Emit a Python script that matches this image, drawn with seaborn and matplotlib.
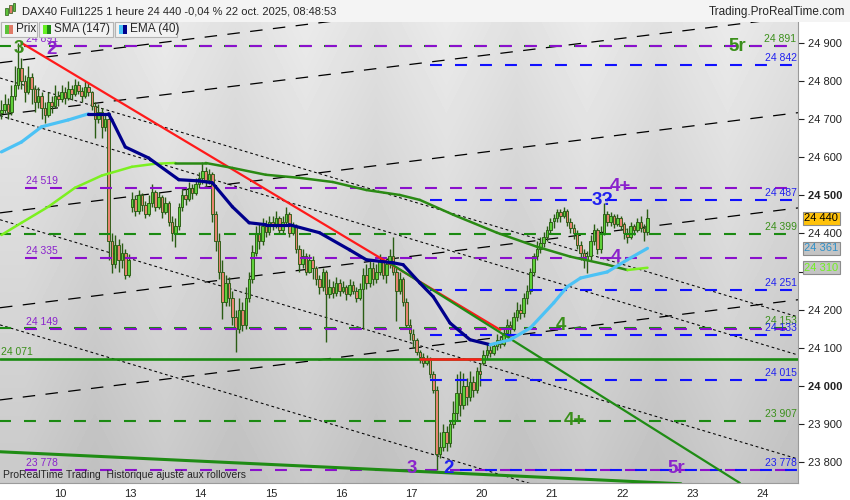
import numpy as np
import pandas as pd
import matplotlib
matplotlib.use("Agg")
import matplotlib.pyplot as plt
import matplotlib.transforms as mtransforms
from matplotlib.patches import Rectangle
import seaborn as sns

# ---------------- data ----------------
days = ["9", "10", "13", "14", "15", "16", "17", "20", "21", "22", "23", "24"]
bars_per_day = 21      # hourly bars per session
first_slot = 3         # 9 Oct starts partly off screen

day_open = [24715, 24752, 24470, 24545, 24430, 24250, 24135, 24060, 24432, 24425]

closes = [
    [24725, 24740, 24718, 24760, 24790, 24835, 24800, 24770, 24810, 24780, 24745, 24760, 24730, 24712, 24745, 24735, 24760, 24752],
    [24770, 24755, 24780, 24765, 24790, 24775, 24760, 24785, 24770, 24735, 24700, 24720, 24680, 24700, 24380, 24320, 24370, 24330, 24350, 24290, 24330],
    [24490, 24460, 24500, 24475, 24450, 24480, 24510, 24470, 24495, 24455, 24480, 24430, 24400, 24420, 24470, 24500, 24490, 24520, 24505, 24530, 24545],
    [24565, 24540, 24555, 24450, 24380, 24300, 24220, 24270, 24230, 24180, 24150, 24200, 24160, 24230, 24280, 24350, 24400, 24380, 24420, 24405, 24430],
    [24420, 24440, 24410, 24430, 24450, 24400, 24420, 24360, 24320, 24340, 24300, 24330, 24310, 24280, 24260, 24300, 24240, 24260, 24245, 24270, 24250],
    [24260, 24240, 24265, 24250, 24230, 24255, 24290, 24270, 24310, 24280, 24300, 24330, 24290, 24320, 24340, 24300, 24250, 24280, 24220, 24160, 24140],
    [24120, 24090, 24075, 24060, 24070, 24030, 23990, 23820, 23840, 23880, 23850, 23900, 23930, 23980, 23950, 24000, 23970, 24010, 23990, 24040, 24030],
    [24080, 24095, 24085, 24105, 24120, 24110, 24140, 24160, 24150, 24180, 24200, 24190, 24230, 24250, 24300, 24340, 24360, 24375, 24390, 24410, 24430],
    [24440, 24455, 24445, 24460, 24430, 24415, 24400, 24370, 24350, 24330, 24340, 24380, 24410, 24360, 24400, 24450, 24430, 24445, 24425, 24440, 24420],
    [24400, 24390, 24420, 24410, 24430, 24415, 24405, 24440],
]
highs = [
    [24750, 24765, 24755, 24790, 24840, 24900, 24860, 24815, 24840, 24820, 24790, 24785, 24770, 24745, 24770, 24760, 24790, 24775],
    [24790, 24785, 24800, 24790, 24805, 24800, 24785, 24800, 24795, 24775, 24745, 24740, 24730, 24715, 24720, 24400, 24395, 24385, 24375, 24360, 24345],
    [24510, 24500, 24515, 24505, 24485, 24500, 24530, 24515, 24510, 24500, 24495, 24485, 24445, 24440, 24480, 24515, 24520, 24535, 24530, 24545, 24560],
    [24588, 24575, 24570, 24560, 24460, 24400, 24330, 24290, 24285, 24250, 24200, 24230, 24220, 24260, 24300, 24370, 24420, 24425, 24440, 24435, 24445],
    [24445, 24460, 24445, 24445, 24470, 24455, 24430, 24425, 24370, 24360, 24350, 24345, 24340, 24315, 24290, 24310, 24305, 24280, 24275, 24285, 24280],
    [24275, 24265, 24280, 24275, 24260, 24270, 24310, 24320, 24330, 24325, 24320, 24345, 24335, 24335, 24360, 24390, 24310, 24300, 24285, 24230, 24175],
    [24150, 24125, 24095, 24085, 24080, 24075, 24040, 24000, 23880, 23900, 23895, 23910, 23960, 24030, 24040, 24035, 24020, 24040, 24025, 24050, 24060],
    [24095, 24110, 24105, 24115, 24135, 24130, 24150, 24175, 24170, 24195, 24220, 24215, 24245, 24265, 24310, 24350, 24380, 24390, 24405, 24420, 24440],
    [24450, 24465, 24465, 24470, 24465, 24440, 24425, 24410, 24380, 24360, 24355, 24395, 24425, 24415, 24420, 24480, 24460, 24455, 24450, 24450, 24445],
    [24430, 24415, 24430, 24425, 24440, 24445, 24425, 24465],
]
lows = [
    [24700, 24715, 24700, 24712, 24750, 24780, 24780, 24745, 24765, 24740, 24720, 24730, 24700, 24690, 24705, 24715, 24728, 24735],
    [24745, 24740, 24750, 24750, 24760, 24765, 24745, 24755, 24760, 24725, 24650, 24690, 24650, 24670, 24330, 24295, 24310, 24300, 24310, 24280, 24285],
    [24455, 24445, 24450, 24460, 24440, 24445, 24470, 24460, 24465, 24440, 24450, 24420, 24380, 24365, 24410, 24460, 24475, 24485, 24490, 24500, 24520],
    [24530, 24525, 24530, 24430, 24355, 24280, 24175, 24210, 24210, 24160, 24090, 24140, 24145, 24150, 24220, 24270, 24340, 24360, 24370, 24390, 24395],
    [24410, 24415, 24400, 24400, 24420, 24390, 24395, 24350, 24300, 24310, 24290, 24295, 24280, 24265, 24240, 24250, 24115, 24230, 24230, 24235, 24235],
    [24245, 24225, 24235, 24240, 24220, 24225, 24150, 24255, 24260, 24265, 24270, 24290, 24280, 24270, 24310, 24290, 24170, 24240, 24210, 24150, 24120],
    [24100, 24080, 24060, 24050, 24055, 24020, 23980, 23780, 23810, 23830, 23830, 23840, 23890, 23910, 23920, 23940, 23950, 23960, 23970, 23980, 24000],
    [24055, 24070, 24075, 24080, 24095, 24100, 24105, 24130, 24135, 24145, 24170, 24175, 24180, 24215, 24240, 24290, 24330, 24350, 24365, 24380, 24400],
    [24415, 24430, 24430, 24440, 24420, 24400, 24385, 24360, 24330, 24310, 24295, 24330, 24370, 24345, 24350, 24395, 24420, 24420, 24415, 24420, 24410],
    [24385, 24375, 24385, 24395, 24405, 24405, 24380, 24395],
]

# moving averages (bar index, value)
sma_idx = [0, 6, 14, 22, 30, 39, 46, 52, 61, 69, 79, 89, 99, 109, 119, 125, 135, 148, 160, 170, 181, 187, 193]
sma_val = [24396, 24428, 24470, 24520, 24552, 24575, 24583, 24585, 24585, 24572, 24554, 24546, 24535, 24514,
           24501, 24488, 24449, 24402, 24365, 24339, 24318, 24304, 24310]
ema_idx = [0, 6, 12, 20, 26, 32, 33, 37, 44, 53, 59, 63, 69, 74, 79, 86, 95, 104, 109, 117, 120, 125, 129,
           134, 140, 146, 152, 158, 165, 169, 173, 181, 187, 193]
ema_val = [24614, 24640, 24680, 24698, 24714, 24714, 24698, 24627, 24598, 24541, 24538, 24533, 24470, 24428,
           24423, 24423, 24402, 24357, 24331, 24323, 24318, 24270, 24234, 24165, 24121, 24108, 24121, 24152,
           24218, 24260, 24283, 24299, 24331, 24361]

# horizontal levels: price, colour, first bar
level_price = [24891, 24891, 24842, 24519, 24487, 24399, 24335, 24251, 24153, 24149, 24133, 24015, 23907, 23778, 23778]
level_kind = ["g", "p", "b", "p", "b", "g", "p", "b", "g", "p", "b", "b", "g", "p", "b"]
level_from = [-1, 7, 128, 7, 128, -1, 7, 128, -1, 7, 128, 128, -1, 7, 137]
left_labels = [24891, 24519, 24335, 24149, 23778]
right_labels = [(24891, "g"), (24842, "b"), (24487, "b"), (24399, "g"), (24251, "b"), (24153, "g"),
                (24133, "b"), (24015, "b"), (23907, "g"), (23778, "b")]
support = 24071

# trend lines (bar index, price)
red_line = ([6, 149], [24900, 24147])
red_flat = ([125, 143], [24071, 24071])
green_down = ([115.5, 220.6], [24325, 23745])
green_low = ([-0.4, 203], [23827, 23743])
channel_up = [(24848, 25110), (24711, 24969), (24454, 24717), (24205, 24467), (23963, 24226)]
channel_dn = [(24808, 24181), (24709, 24081), (24436, 23808), (24160, 23533)]

waves = [("3", 5.3, 24885, "g"), ("2", 15.1, 24883, "p"), ("5r", 219.7, 24890, "g"),
         ("4+", 184.8, 24522, "p"), ("3?", 179.7, 24486, "b"), ("4", 183.6, 24336, "p"),
         ("4", 167.2, 24158, "g"), ("4+", 171.3, 23908, "g"), ("3", 122.6, 23782, "p"),
         ("2", 133.7, 23782, "b"), ("5r", 201.5, 23782, "p")]

last_price = 24440
ema_last = 24361
sma_last = 24310

# ---------------- style ----------------
sns.set_style("white")
plt.rcParams["font.family"] = ["Liberation Sans", "DejaVu Sans"]
plt.rcParams["lines.scale_dashes"] = False

col = {"g": "#1b8a12", "p": "#8a10cc", "b": "#1010ff"}
txt = {"g": "#3a8f1a", "p": "#8a22cc", "b": "#2020f0"}
edge = "#2a5c14"

def fmt(p):
    return f"{p:,}".replace(",", " ")

# ---------------- candles ----------------
rows = []
i = 0
for o, cs, hs, ls in zip(day_open, closes, highs, lows):
    for c, h, l in zip(cs, hs, ls):
        rows.append((i, o, h, l, c))
        o = c
        i += 1
df = pd.DataFrame(rows, columns=["i", "open", "high", "low", "close"])

fig = plt.figure(figsize=(8.5, 5.0), dpi=100)
fig.patch.set_facecolor("white")
ax = fig.add_axes([0, 17 / 500, 798 / 850, 461 / 500])

ylo, yhi = 23745, 24955
xlo, xhi = -0.42, 237.96

# background: vertical gradient with alternating day bands
t = np.linspace(0, 1, 150)[:, None]
band = np.array([i % 2 for i in range(len(days))])[None, :]
bg = 0.92 - 0.13 * t - 0.04 * band
ax.imshow(bg, cmap="gray", vmin=0, vmax=1, aspect="auto", origin="upper",
          extent=[-first_slot - 0.5, bars_per_day * len(days) - first_slot - 0.5, ylo, yhi],
          interpolation="bilinear", zorder=0)

# channel lines
for a, b in channel_up:
    ax.plot([xlo, xhi], [a, b], color="black", lw=0.9, dashes=(9, 7.5), zorder=1)
for a, b in channel_dn:
    ax.plot([xlo, xhi], [a, b], color="black", lw=0.75, dashes=(2, 2), zorder=1)

# candles
up = df["close"] >= df["open"]
ax.vlines(df["i"], df["low"], df["high"], color=edge, lw=1.0, zorder=3)
ax.bar(df["i"], (df["close"] - df["open"]).abs().clip(lower=1.5),
       bottom=df[["open", "close"]].min(axis=1), width=0.75,
       color=np.where(up, "#5fd03a", "#e88470"), edgecolor=edge, linewidth=0.65, zorder=4)

# levels
for p, k, x0 in zip(level_price, level_kind, level_from):
    ax.plot([x0, xhi], [p, p], color=col[k], lw=1.5, dashes=(8.6, 9.4), zorder=5)
ax.axhline(support, color=col["g"], lw=1.9, zorder=5)

for p in left_labels:
    ax.annotate(fmt(p), (7, p), xytext=(1, 5), textcoords="offset points", ha="left", va="center",
                fontsize=7.5, color=txt["p"], zorder=6)
ax.annotate(fmt(support), (0, support), xytext=(0, 5), textcoords="offset points", ha="left",
            va="center", fontsize=7.5, color=txt["g"], zorder=6)
for p, k in right_labels:
    ax.annotate(fmt(p), (xhi, p), xytext=(-1, 5), textcoords="offset points", ha="right", va="center",
                fontsize=7.5, color=txt[k], zorder=6)

# trend lines
sns.lineplot(x=red_line[0], y=red_line[1], ax=ax, color="#ff1a1a", lw=1.6, zorder=6)
sns.lineplot(x=red_flat[0], y=red_flat[1], ax=ax, color="#ff1a1a", lw=1.8, zorder=6)
sns.lineplot(x=green_down[0], y=green_down[1], ax=ax, color="#1f8c14", lw=1.6, zorder=6)
sns.lineplot(x=green_low[0], y=green_low[1], ax=ax, color="#1f8c14", lw=2.2, zorder=6)

# moving averages, coloured by direction
def two_tone(xs, ys, rise, fall, lw):
    for x0, x1, y0, y1 in zip(xs[:-1], xs[1:], ys[:-1], ys[1:]):
        ax.plot([x0, x1], [y0, y1], color=rise if y1 > y0 else fall, lw=lw,
                solid_capstyle="round", zorder=7)

two_tone(sma_idx, sma_val, "#7cf020", "#2a8a14", 1.8)
two_tone(ema_idx, ema_val, "#4cc2f5", "#00008c", 2.3)

for s, x, p, k in waves:
    ax.text(x, p, s, color=txt[k], fontsize=13.5, fontweight="bold", ha="center", va="center", zorder=8)

ax.text(0.004, 0.018, "ProRealTime Trading  Historique ajusté aux rollovers", transform=ax.transAxes,
        fontsize=7.5, ha="left", va="center", zorder=8)

# axes
ax.set_xlim(xlo, xhi)
ax.set_ylim(ylo, yhi)
bounds = [bars_per_day * d - first_slot - 0.5 for d in range(1, len(days))]
ax.set_xticks(bounds)
ax.set_xticklabels(days[1:])
ax.yaxis.tick_right()
yt = list(range(23800, 25000, 100))
ax.set_yticks(yt)
# the 24 300 label sits under the SMA value box
ax.set_yticklabels(["" if abs(v - sma_last) < 30 else fmt(v) for v in yt])
for lab, v in zip(ax.get_yticklabels(), yt):
    if v % 500 == 0:
        lab.set_fontweight("bold")
ax.tick_params(axis="x", length=3, pad=1.5, labelsize=8, colors="#222222")
ax.tick_params(axis="y", length=4, pad=3, labelsize=8, colors="#222222")
for s in ["top", "left"]:
    ax.spines[s].set_visible(False)
ax.spines["right"].set_color("#9a9a9a")
ax.spines["bottom"].set_color("#9a9a9a")

# value boxes on the price scale
tr = mtransforms.blended_transform_factory(ax.transAxes, ax.transData)
for v, fc, tc in [(last_price, "#ffc20a", "black"), (ema_last, "#c4c4c4", "#3090c8"),
                  (sma_last, "#c4c4c4", "#70f020")]:
    ax.text(1.008, v, fmt(v), transform=tr, fontsize=8, color=tc, ha="left", va="center",
            clip_on=False, zorder=10,
            bbox=dict(boxstyle="square,pad=0.12", fc=fc, ec="#8c8c8c", lw=0.8))

# title row and legend
fig.patches.append(Rectangle((0, 478 / 500), 1, 22 / 500, transform=fig.transFigure,
                             fc="#f4f4f4", ec="none", zorder=0))
fig.text(22 / 850, 1 - 11 / 500, "DAX40 Full1225 1 heure 24 440 -0,04 % 22 oct. 2025, 08:48:53",
         fontsize=8, va="center", ha="left")
fig.text(845 / 850, 1 - 12 / 500, "Trading.ProRealTime.com", fontsize=8.5, va="center", ha="right")
for x, y0, y1, c in [(5, 8, 15, "#5cc23a"), (9, 5, 13, "#e07a66"), (13, 3, 11, "#5cc23a")]:
    fig.patches.append(Rectangle((x / 850, 1 - y1 / 500), 2.5 / 850, (y1 - y0) / 500,
                                 transform=fig.transFigure, fc=c, ec=edge, lw=0.5, zorder=5))

legend = [(1, 37, "Prix", "#5cc23a", "#e07a66"), (39, 113, "SMA (147)", "#66f020", "#1f8a14"),
          (115, 177, "EMA (40)", "#4cc2f5", "#00008c")]
for x0, x1, label, c1, c2 in legend:
    fig.patches.append(Rectangle((x0 / 850, 1 - 37 / 500), (x1 - x0) / 850, 15 / 500,
                                 transform=fig.transFigure, fc="#f2f2f2", ec="#b4b4b4", lw=0.8, zorder=5))
    fig.patches.append(Rectangle(((x0 + 4) / 850, 1 - 34 / 500), 4 / 850, 9 / 500,
                                 transform=fig.transFigure, fc=c1, ec="none", zorder=6))
    fig.patches.append(Rectangle(((x0 + 8) / 850, 1 - 34 / 500), 4 / 850, 9 / 500,
                                 transform=fig.transFigure, fc=c2, ec="none", zorder=6))
    fig.text((x0 + 15) / 850, 1 - 29.5 / 500, label, fontsize=8.5, va="center", ha="left", zorder=7)

fig.savefig("out.png", dpi=100)
